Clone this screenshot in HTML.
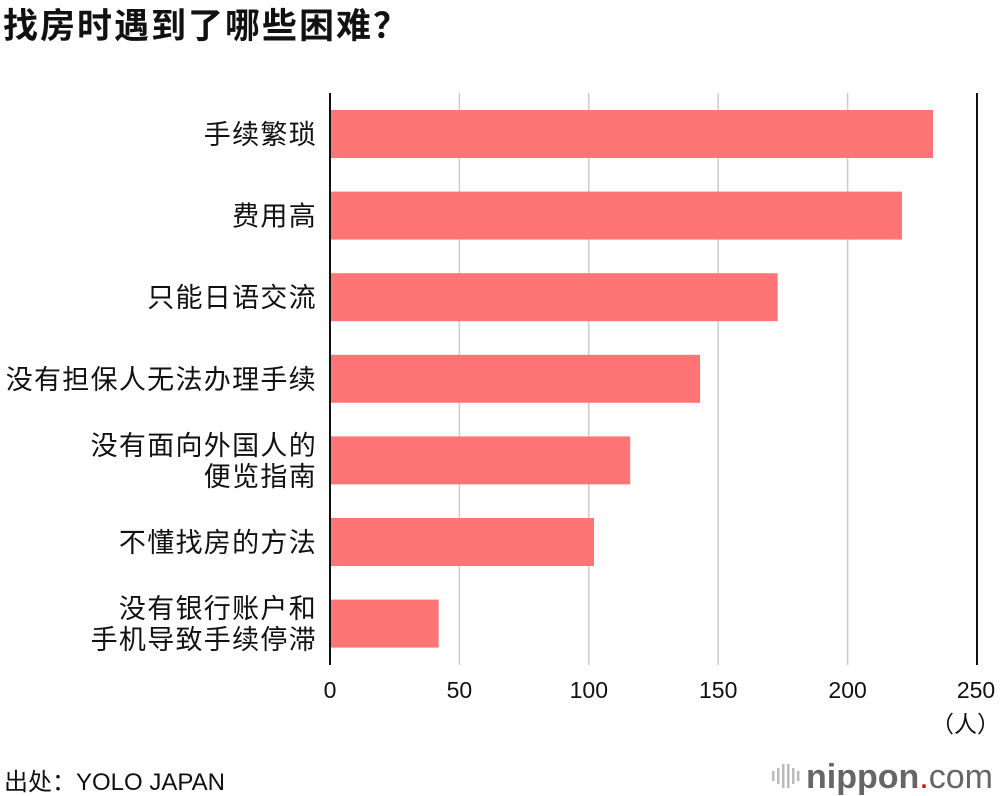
<!DOCTYPE html>
<html><head><meta charset="utf-8"><style>
body{margin:0;background:#fff;font-family:"Liberation Sans","Noto Sans CJK SC",sans-serif;}
#c{position:relative;width:1000px;height:796px;overflow:hidden}
</style></head><body>
<div id="c">
<svg id="s" width="1000" height="796"></svg>
</div>
<script>
const categories=[["手续繁琐"],["费用高"],["只能日语交流"],["没有担保人无法办理手续"],["没有面向外国人的","便览指南"],["不懂找房的方法"],["没有银行账户和","手机导致手续停滞"]];
const values=[233,221,173,143,116,102,42];
const ticks=[0,50,100,150,200,250];
const NS="http://www.w3.org/2000/svg";
const s=document.getElementById('s');
const x0=330,x1=977,maxV=250,top0=110,step=81.6,bh=48;
const xs=v=>x0+(x1-x0)*v/maxV;
const F='"Liberation Sans","Noto Sans CJK SC",sans-serif';
function mk(t,a,txt){const e=document.createElementNS(NS,t);for(const k in a)e.setAttribute(k,a[k]);if(txt!==undefined)e.textContent=txt;s.appendChild(e);return e;}
let t=mk('text',{x:3,y:38,'font-size':35,'font-weight':'bold','letter-spacing':2,'font-family':F,fill:'#111'},'找房时遇到了哪些困难？');


ticks.forEach((v,i)=>{
 if(i>0){const l=mk('line',{x1:xs(v),x2:xs(v),y1:93,y2:665,stroke:i==ticks.length-1?'#111':'#ccc','stroke-width':i==ticks.length-1?2:1.5});
 
 }
 const tx=mk('text',{x:xs(v)+(i==ticks.length-1?-1:0),y:698,'font-size':23,'text-anchor':'middle','font-family':F,fill:'#111'},String(v));
 
 
});
values.forEach((v,i)=>{
 const y=top0+i*step;
 const r=mk('rect',{x:x0,y:y,width:xs(v)-x0,height:bh,fill:'#ff7575'});
 
 
 const lines=categories[i];
 lines.forEach((ln,j)=>{
  const yy=y+bh/2+10+(j-(lines.length-1)/2)*31;
  const tx=mk('text',{x:317,y:yy,'font-size':27,'letter-spacing':1.3,'text-anchor':'end','font-family':F,fill:'#111'},ln);
  
  
 });
});
const ax=mk('line',{x1:x0,x2:x0,y1:93,y2:665,stroke:'#111','stroke-width':2});


t=mk('text',{x:1000,y:732,'font-size':23,'text-anchor':'end','font-family':F,fill:'#111'},'（人）');


t=mk('text',{x:4,y:790,'font-size':24,'font-family':F,fill:'#111'},'出处：YOLO JAPAN');


[[772,10],[777,16],[782,24],[787,24],[792,16],[797,10]].forEach(([x,h])=>{
 const b=mk('rect',{x:x,y:776-h/2,width:2.5,height:h,fill:'#bbb'});
 
 
});
t=mk('text',{x:806,y:788,'font-size':34,'font-family':F,fill:'#666'});


const a=document.createElementNS(NS,'tspan');a.setAttribute('font-weight','bold');a.textContent='nippon';t.appendChild(a);
const b=document.createElementNS(NS,'tspan');b.setAttribute('fill','#e00');b.textContent='.';t.appendChild(b);
const c=document.createElementNS(NS,'tspan');c.textContent='com';t.appendChild(c);
</script>
</body></html>
